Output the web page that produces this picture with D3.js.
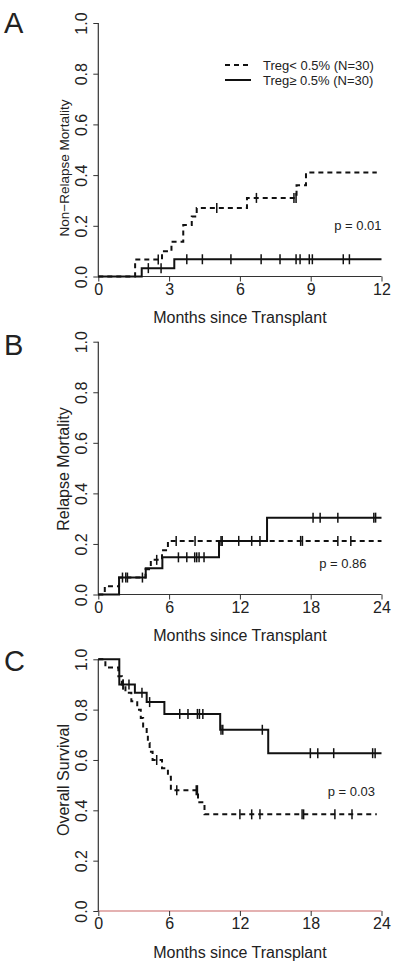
<!DOCTYPE html>
<html><head><meta charset="utf-8">
<script src="https://cdn.jsdelivr.net/npm/d3@7"></script>
<style>
html,body{margin:0;padding:0;background:#fff;}
text{font-family:"Liberation Sans",Arial,Helvetica,sans-serif;fill:#222;}
</style></head>
<body><svg id="chart" width="400" height="963"></svg>
<script>
// ---------- data ----------
const yTickValues = [0, 0.2, 0.4, 0.6, 0.8, 1.0];
const yTickLabels = ["0.0", "0.2", "0.4", "0.6", "0.8", "1.0"];
const xTicksA = [0, 3, 6, 9, 12];
const xTicksBC = [0, 6, 12, 18, 24];
const panelLetters = ["A", "B", "C"];
const yTitles = ["Non\u2212Relapse Mortality", "Relapse Mortality", "Overall Survival"];
const xTitle = "Months since Transplant";
const pValues = ["p = 0.01", "p = 0.86", "p = 0.03"];
const legendLabels = ["Treg< 0.5% (N=30)", "Treg\u2265 0.5% (N=30)"];

// Panel A: non-relapse mortality
const aLowTimes = [0, 1.56, 2.7, 3.1, 3.6, 3.96, 4.17, 6.3, 8.4, 8.8, 11.8];
const aLowValues = [0, 0.067, 0.10, 0.137, 0.203, 0.237, 0.27, 0.31, 0.36, 0.41, 0.41];
const aLowCensor = [2.54, 5.02, 6.7, 8.29, 8.38];
const aHighTimes = [0, 1.84, 3.22, 12];
const aHighValues = [0, 0.033, 0.068, 0.068];
const aHighCensor = [2.12, 2.66, 3.75, 4.41, 5.62, 6.9, 7.7, 8.38, 8.55, 8.94, 9.07, 10.38, 10.64];

// Panel B: relapse mortality
const bLowTimes = [0, 0.55, 1.76, 4.0, 4.45, 5.4, 5.9, 24];
const bLowValues = [0, 0.033, 0.067, 0.10, 0.137, 0.175, 0.212, 0.212];
const bLowCensor = [4.95, 6.6, 8.2, 17.15, 17.3, 20.3, 21.4];
const bHighTimes = [0, 1.76, 4.02, 5.43, 10.23, 14.3, 24];
const bHighValues = [0, 0.067, 0.104, 0.147, 0.212, 0.304, 0.304];
const bHighCensor = [2.05, 2.33, 2.47, 3.74, 6.79, 7.5, 8.17, 8.34, 8.54, 8.96, 10.4, 10.5, 11.9, 13.0, 13.7, 18.2, 18.8, 20.3, 23.35, 23.5];

// Panel C: overall survival
const cLowTimes = [0, 0.6, 1.7, 2.0, 2.3, 2.8, 3.3, 3.6, 3.8, 4.1, 4.2, 4.35, 4.6, 5.4, 5.9, 6.15, 8.45, 9.0, 23.6];
const cLowValues = [1, 0.967, 0.933, 0.90, 0.867, 0.833, 0.80, 0.767, 0.733, 0.70, 0.667, 0.633, 0.60, 0.567, 0.533, 0.48, 0.432, 0.384, 0.384];
const cLowCensor = [2.1, 4.95, 6.65, 8.3, 8.4, 12.0, 13.0, 13.7, 17.27, 17.4, 20.05, 21.5];
const cHighTimes = [0, 1.78, 3.1, 4.1, 5.6, 10.33, 14.4, 24];
const cHighValues = [1, 0.90, 0.867, 0.83, 0.783, 0.72, 0.627, 0.627];
const cHighCensor = [2.1, 2.6, 3.7, 4.35, 6.9, 7.6, 8.4, 8.57, 8.86, 10.4, 10.55, 13.9, 17.97, 18.6, 19.95, 23.25, 23.46];

// ---------- drawing ----------
const svg = d3.select("#chart");
const X0 = 98.3, X1 = 381.5;
const FONT = 16, SMALL = 13;

const panels = [
  {top: 23, bottom: 276.5, xmax: 12, xticks: xTicksA,
   low: [aLowTimes, aLowValues, aLowCensor], high: [aHighTimes, aHighValues, aHighCensor],
   p: pValues[0], pX: 381.5, pY: 225, legend: true, axisColor: "#333",
   titleSize: 13.5, titleY: 168},
  {top: 341.7, bottom: 594.5, xmax: 24, xticks: xTicksBC,
   low: [bLowTimes, bLowValues, bLowCensor], high: [bHighTimes, bHighValues, bHighCensor],
   p: pValues[1], pX: 366.5, pY: 563, legend: false, axisColor: "#333",
   titleSize: 16, titleY: 469},
  {top: 659.3, bottom: 911, xmax: 24, xticks: xTicksBC,
   low: [cLowTimes, cLowValues, cLowCensor], high: [cHighTimes, cHighValues, cHighCensor],
   p: pValues[2], pX: 375, pY: 791.5, legend: false, axisColor: "#c96464",
   titleSize: 16, titleY: 780}
];
const letterBase = [33, 355, 671];

function valueAt(times, values, t) {
  let v = values[0];
  for (let i = 0; i < times.length; i++) { if (times[i] <= t) v = values[i]; }
  return v;
}

panels.forEach((P, i) => {
  const x = d3.scaleLinear().domain([0, P.xmax]).range([X0, X1]);
  const y = d3.scaleLinear().domain([0, 1]).range([P.bottom, P.top]);
  const g = svg.append("g");

  // x axis
  const xa = g.append("g").attr("transform", `translate(0,${P.bottom})`)
    .call(d3.axisBottom(x).tickValues(P.xticks).tickSize(5).tickPadding(2).tickFormat(d3.format("d")));
  xa.select(".domain").attr("stroke", P.axisColor).attr("stroke-width", 1.2).attr("d", `M${X0},0H${X1}`);
  xa.selectAll(".tick line").attr("stroke", "#333");
  xa.selectAll(".tick text").attr("font-size", FONT).attr("font-family", null).attr("fill", "#222");

  // y axis
  const ya = g.append("g").attr("transform", `translate(${X0},0)`)
    .call(d3.axisLeft(y).tickValues(yTickValues).tickSize(5).tickFormat((d, k) => yTickLabels[k]));
  ya.select(".domain").attr("stroke", "#333").attr("stroke-width", 1.2).attr("d", `M0,${P.bottom}V${P.top}`);
  ya.selectAll(".tick line").attr("stroke", "#333");
  ya.selectAll(".tick text").attr("font-size", FONT).attr("font-family", null).attr("fill", "#222")
    .attr("x", null).attr("dy", null).attr("text-anchor", "middle")
    .attr("transform", "translate(-11.5,0) rotate(-90)");

  // titles
  g.append("text").attr("x", (X0 + X1) / 2).attr("y", P.bottom + 46.5)
    .attr("text-anchor", "middle").attr("font-size", FONT).text(xTitle);
  g.append("text").attr("transform", `translate(69,${P.titleY}) rotate(-90)`)
    .attr("text-anchor", "middle").attr("font-size", P.titleSize).text(yTitles[i]);
  g.append("text").attr("x", 4).attr("y", letterBase[i]).attr("font-size", 29).text(panelLetters[i]);

  // curves
  const line = d3.line().x(d => x(d[0])).y(d => y(d[1])).curve(d3.curveStepAfter);
  [[P.low, "5,4"], [P.high, null]].forEach(([s, dash]) => {
    const [times, values, censor] = s;
    const pts = times.map((t, k) => [t, values[k]]);
    g.append("path").attr("d", line(pts)).attr("fill", "none").attr("stroke", "#111")
      .attr("stroke-width", 2).attr("stroke-dasharray", dash);
    g.selectAll(null).data(censor).enter().append("line")
      .attr("x1", d => x(d)).attr("x2", d => x(d))
      .attr("y1", d => y(valueAt(times, values, d)) - 5)
      .attr("y2", d => y(valueAt(times, values, d)) + 5)
      .attr("stroke", "#111").attr("stroke-width", 1.5);
  });

  g.append("text").attr("x", P.pX).attr("y", P.pY + 4.5).attr("text-anchor", "end")
    .attr("font-size", SMALL).text(P.p);

  if (P.legend) {
    const lg = g.append("g");
    [[65, "5,4"], [80, null]].forEach(([ly, dash], k) => {
      lg.append("line").attr("x1", 225).attr("x2", 251).attr("y1", ly).attr("y2", ly)
        .attr("stroke", "#111").attr("stroke-width", 2).attr("stroke-dasharray", dash);
      lg.append("text").attr("x", 263).attr("y", ly + 4.5).attr("font-size", SMALL).text(legendLabels[k]);
    });
  }
});
</script></body></html>
